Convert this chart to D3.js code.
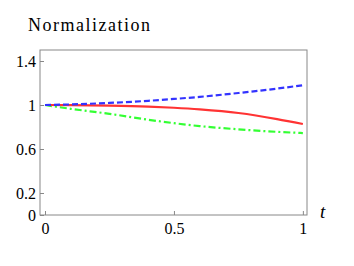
<!DOCTYPE html>
<html>
<head>
<meta charset="utf-8">
<script src="https://cdn.jsdelivr.net/npm/d3@7"></script>
<style>
  body { margin: 0; background: #fff; }
</style>
</head>
<body>
<div id="chart"></div>
<script>
// values
const tValues = [0, 0.1, 0.25, 0.4, 0.5, 0.6, 0.75, 0.9, 1];
const blueSeries = [1, 1.005, 1.019, 1.038, 1.055, 1.074, 1.109, 1.149, 1.18];
const redSeries = [1, 0.999, 0.995, 0.986, 0.975, 0.96, 0.927, 0.872, 0.827];
const greenSeries = [1, 0.965, 0.92, 0.866, 0.835, 0.808, 0.779, 0.756, 0.745];
const xTicks = [0, 0.5, 1];
const yTicks = [0, 0.2, 0.6, 1, 1.4];

const SERIF = "'Liberation Serif', 'DejaVu Serif', serif";
const W = 354, H = 266;
const margin = { top: 50, right: 47, bottom: 51, left: 40 };
const width = W - margin.left - margin.right;
const height = H - margin.top - margin.bottom;

const svg = d3.select("#chart").append("svg")
  .attr("width", W).attr("height", H);

svg.append("text")
  .attr("x", 28).attr("y", 31)
  .style("font-family", SERIF)
  .style("font-size", "18px")
  .style("letter-spacing", "1.5px")
  .text("Normalization");

const g = svg.append("g")
  .attr("transform", "translate(" + margin.left + "," + margin.top + ")");

const x = d3.scaleLinear().domain([-0.0194, 1.016]).range([0, width]);
const y = d3.scaleLinear().domain([0, 1.5]).range([height, 0]);

// frame
g.append("rect")
  .attr("x", 0).attr("y", 0)
  .attr("width", width).attr("height", height)
  .attr("fill", "none").attr("stroke", "#888").attr("stroke-width", 1);

const xAxis = g.append("g")
  .attr("transform", "translate(0," + height + ")")
  .call(d3.axisBottom(x).tickValues(xTicks).tickSize(-4).tickPadding(8)
    .tickFormat(d => String(d)));
const yAxis = g.append("g")
  .call(d3.axisLeft(y).tickValues(yTicks).tickSize(-4).tickPadding(4)
    .tickFormat(d => String(d)));

[xAxis, yAxis].forEach(a => {
  a.select(".domain").remove();
  a.selectAll(".tick line").attr("stroke", "#888");
  a.selectAll(".tick text")
    .style("font-family", SERIF)
    .style("font-size", "16px").attr("fill", "#000");
});

g.append("text")
  .attr("x", width + 13).attr("y", height + 3)
  .style("font-family", SERIF)
  .style("font-size", "19px").style("font-style", "italic")
  .text("t");

const line = d3.line()
  .x((d, i) => x(tValues[i]))
  .y(d => y(d))
  .curve(d3.curveMonotoneX);

const series = [
  { values: greenSeries, color: "#33ff33", dash: "7,3,2,3" },
  { values: redSeries, color: "#ff3333", dash: null },
  { values: blueSeries, color: "#3333ff", dash: "6,3" }
];

series.forEach(s => {
  g.append("path")
    .datum(s.values)
    .attr("fill", "none")
    .attr("stroke", s.color)
    .attr("stroke-width", 2.2)
    .attr("stroke-dasharray", s.dash)
    .attr("d", line);
});
</script>
</body>
</html>
